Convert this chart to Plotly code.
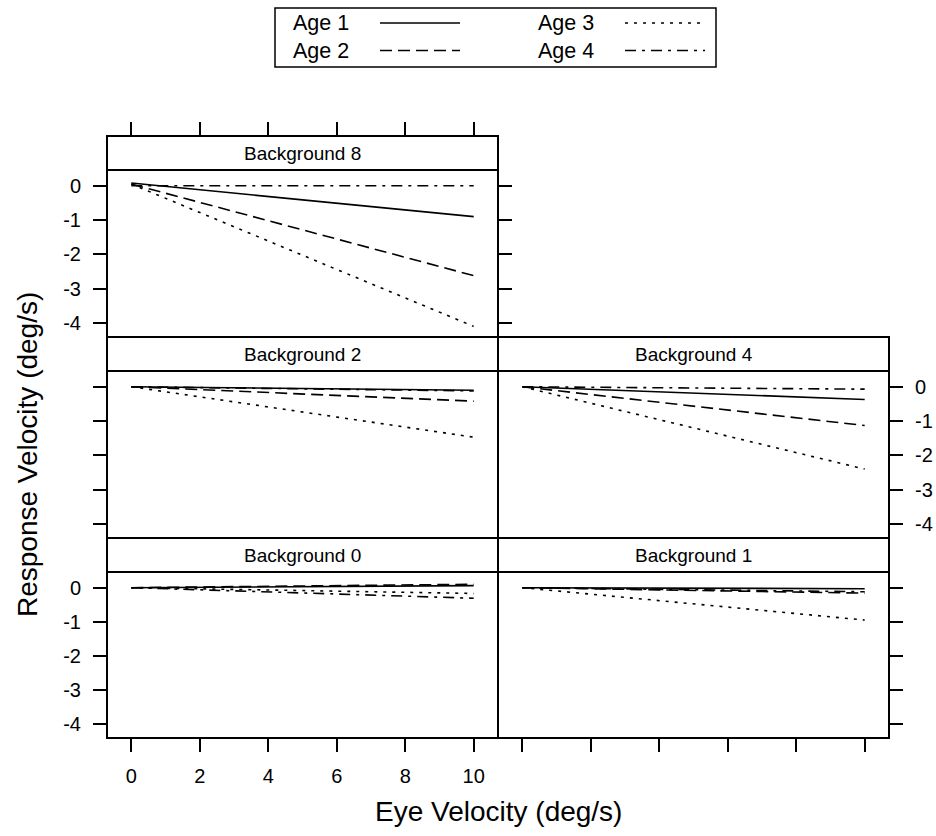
import plotly.graph_objects as go

# ---------------- data ----------------
eye_velocity = [0, 10]
ages = ["Age 1", "Age 2", "Age 3", "Age 4"]
age_dash = ["solid", "12px,6px", "3px,6px", "11px,6px,3px,6px"]

start_bg0 = [0.0, 0.0, 0.0, 0.0]
end_bg0 = [0.06, 0.10, -0.17, -0.31]
start_bg1 = [0.0, 0.0, 0.0, 0.0]
end_bg1 = [-0.03, -0.16, -0.95, -0.12]
start_bg2 = [0.0, 0.0, 0.0, 0.0]
end_bg2 = [-0.10, -0.42, -1.47, -0.12]
start_bg4 = [0.0, 0.0, 0.0, 0.0]
end_bg4 = [-0.37, -1.13, -2.40, -0.07]
start_bg8 = [0.08, 0.05, 0.05, 0.0]
end_bg8 = [-0.90, -2.62, -4.10, 0.0]

x_tickvals = [0, 2, 4, 6, 8, 10]
x_ticktext = ["0", "2", "4", "6", "8", "10"]
y_tickvals = [0, -1, -2, -3, -4]
y_ticktext = ["0", "-1", "-2", "-3", "-4"]

# ---------------- layout geometry (pixels) ----------------
W, H = 936, 836
FONT = "Liberation Sans, Arial, Helvetica, sans-serif"
X_LEFT = (107.0, 498.0)
X_RIGHT = (498.0, 889.0)
ROW_TOP = (136.0, 337.0)
ROW_MID = (337.0, 538.0)
ROW_BOT = (538.0, 738.0)
STRIP_PX = 34.0
Y_LO, Y_HI = -4.41, 0.46
X_RANGE = [-0.71, 10.71]
TICKLEN = 13
LW = 1.6
FRAME_W = 2.0
HALF = FRAME_W / 2


def px_x(p):
    return p / W


def px_y(p):
    return 1 - p / H


panels = [
    # name, starts, ends, xdom, row, x-style, y-style
    ("Background 0", start_bg0, end_bg0, X_LEFT, ROW_BOT, "bottom_labels", "left_labels"),
    ("Background 1", start_bg1, end_bg1, X_RIGHT, ROW_BOT, "bottom", "right"),
    ("Background 2", start_bg2, end_bg2, X_LEFT, ROW_MID, "none", "left"),
    ("Background 4", start_bg4, end_bg4, X_RIGHT, ROW_MID, "none", "right_labels"),
    ("Background 8", start_bg8, end_bg8, X_LEFT, ROW_TOP, "top", "left_labels_mirror"),
]

fig = go.Figure()
layout = dict(
    width=W, height=H,
    margin=dict(l=0, r=0, t=0, b=0),
    paper_bgcolor="white", plot_bgcolor="white",
    showlegend=False,
    font=dict(family=FONT, color="black", size=20),
)
shapes = []
annotations = []

for i, (name, s, e, xdom, row, xstyle, ystyle) in enumerate(panels, start=1):
    xa = "x" if i == 1 else f"x{i}"
    ya = "y" if i == 1 else f"y{i}"
    xkey = "xaxis" if i == 1 else f"xaxis{i}"
    ykey = "yaxis" if i == 1 else f"yaxis{i}"

    for k, age in enumerate(ages):
        fig.add_trace(go.Scatter(
            x=eye_velocity, y=[s[k], e[k]], mode="lines", name=age,
            line=dict(color="black", width=LW, dash=age_dash[k]),
            xaxis=xa, yaxis=ya, hoverinfo="skip",
        ))

    # inner domain so that the frame lines are centred on the nominal edges
    x0p, x1p = xdom[0] + HALF, xdom[1] - HALF
    y0p, y1p = row[0] + HALF, row[1] - HALF
    dom_h = y1p - y0p
    strip_bottom_px = row[0] + STRIP_PX
    span = Y_HI - Y_LO
    full_plot_px = row[1] - strip_bottom_px
    unit_y = full_plot_px / span
    y_lo = Y_LO + HALF / unit_y
    y_top = Y_HI + (strip_bottom_px - y0p) / unit_y
    strip_frac = (y1p - strip_bottom_px) / dom_h
    unit_x = (xdom[1] - xdom[0]) / (X_RANGE[1] - X_RANGE[0])
    x_rng = [X_RANGE[0] + HALF / unit_x, X_RANGE[1] - HALF / unit_x]

    xaxis = dict(
        domain=[px_x(x0p), px_x(x1p)],
        range=x_rng, anchor=ya,
        showgrid=False, zeroline=False,
        showline=True, linecolor="black", linewidth=FRAME_W, mirror=True,
        tickmode="array", tickvals=x_tickvals, ticktext=x_ticktext,
        ticklen=TICKLEN, tickwidth=1.6, tickcolor="black",
        tickfont=dict(size=20, family=FONT, color="black"),
        ticklabelstandoff=7,
    )
    if xstyle == "bottom_labels":
        xaxis.update(side="bottom", ticks="outside", showticklabels=True)
    elif xstyle == "bottom":
        xaxis.update(side="bottom", ticks="outside", showticklabels=False)
    elif xstyle == "top":
        xaxis.update(side="top", ticks="outside", showticklabels=False)
    else:
        xaxis.update(ticks="", showticklabels=False)

    yaxis = dict(
        domain=[px_y(y1p), px_y(y0p)],
        range=[y_lo, y_top], anchor=xa,
        showgrid=False, zeroline=False,
        showline=True, linecolor="black", linewidth=FRAME_W, mirror=True,
        tickmode="array", tickvals=y_tickvals, ticktext=y_ticktext,
        ticklen=TICKLEN, tickwidth=1.6, tickcolor="black",
        tickfont=dict(size=20, family=FONT, color="black"),
        ticklabelstandoff=8,
    )
    if ystyle == "left_labels":
        yaxis.update(side="left", ticks="outside", showticklabels=True)
    elif ystyle == "left_labels_mirror":
        yaxis.update(side="left", ticks="outside", showticklabels=True, mirror="ticks")
    elif ystyle == "left":
        yaxis.update(side="left", ticks="outside", showticklabels=False)
    elif ystyle == "right_labels":
        yaxis.update(side="right", ticks="outside", showticklabels=True)
    else:
        yaxis.update(side="right", ticks="outside", showticklabels=False)

    layout[xkey] = xaxis
    layout[ykey] = yaxis

    # strip
    shapes.append(dict(
        type="line", xref=f"{xa} domain", yref=f"{ya} domain",
        x0=0, x1=1, y0=strip_frac, y1=strip_frac,
        line=dict(color="black", width=FRAME_W),
    ))
    annotations.append(dict(
        text=name, xref=f"{xa} domain", yref=f"{ya} domain",
        x=0.5, y=(1 + strip_frac) / 2, xanchor="center", yanchor="middle",
        showarrow=False, font=dict(size=19, family=FONT, color="black"),
    ))

# axis titles
annotations.append(dict(
    text="Eye Velocity (deg/s)", xref="paper", yref="paper",
    x=px_x(498), y=px_y(811), xanchor="center", yanchor="middle",
    showarrow=False, font=dict(size=28, family=FONT, color="black"),
))
annotations.append(dict(
    text="Response Velocity (deg/s)", xref="paper", yref="paper",
    x=px_x(27), y=px_y(455), xanchor="center", yanchor="middle",
    textangle=-90, showarrow=False, font=dict(size=28, family=FONT, color="black"),
))

# legend (key) drawn as box, text and line samples
LEG_BOX = (275, 8, 716, 67)
leg_rows = [23.0, 50.5, 23.0, 50.5]
leg_text_x = [291, 291, 536, 536]
leg_line_x = [(380, 460), (380, 460), (625, 705), (625, 705)]
shapes.append(dict(
    type="rect", xref="paper", yref="paper",
    x0=px_x(LEG_BOX[0]), x1=px_x(LEG_BOX[2]),
    y0=px_y(LEG_BOX[3]), y1=px_y(LEG_BOX[1]),
    line=dict(color="black", width=1.5), fillcolor="rgba(0,0,0,0)",
))
for k, age in enumerate(ages):
    annotations.append(dict(
        text=age, xref="paper", yref="paper",
        x=px_x(leg_text_x[k]), y=px_y(leg_rows[k]),
        xanchor="left", yanchor="middle", showarrow=False,
        font=dict(size=21.5, family=FONT, color="black"),
    ))
    shapes.append(dict(
        type="line", xref="paper", yref="paper",
        x0=px_x(leg_line_x[k][0]), x1=px_x(leg_line_x[k][1]),
        y0=px_y(leg_rows[k]), y1=px_y(leg_rows[k]),
        line=dict(color="black", width=LW, dash=age_dash[k]),
    ))

layout["shapes"] = shapes
layout["annotations"] = annotations
fig.update_layout(**layout)
fig.write_html("out.html")
